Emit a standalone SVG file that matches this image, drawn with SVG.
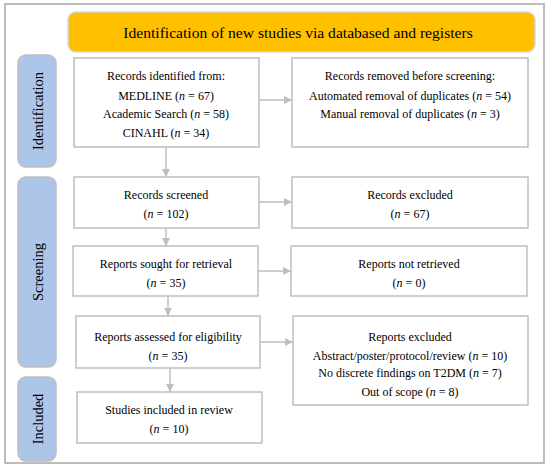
<svg xmlns="http://www.w3.org/2000/svg" width="550" height="474" viewBox="0 0 550 474">
<style>
.box{fill:#ffffff;stroke:#bfbfbf;stroke-width:1.5}
.side{fill:#adc5e8;stroke:#bfbfbf;stroke-width:1.5}
.t{font-family:"Liberation Serif","Times New Roman",serif;font-size:12px;fill:#000;text-anchor:middle}
.s{font-family:"Liberation Serif","Times New Roman",serif;font-size:14.5px;fill:#000;text-anchor:middle}
.h{font-family:"Liberation Serif","Times New Roman",serif;font-size:15.6px;fill:#000;text-anchor:middle}
.c{stroke:#bfbfbf;stroke-width:1.5;fill:none;marker-end:url(#ah)}
</style>
<defs>
<marker id="ah" viewBox="0 0 10 10" refX="10" refY="5" markerWidth="8" markerHeight="8" markerUnits="userSpaceOnUse" orient="auto">
<path d="M0,0 L10,5 L0,10 z" fill="#bfbfbf"/>
</marker>
</defs>
<rect x="0" y="0" width="550" height="474" fill="#ffffff"/>
<rect x="5" y="4" width="539" height="459" fill="#ffffff" stroke="#a6a6a6" stroke-width="1.5"/>
<g id="header">
<rect x="68" y="12" width="467" height="40" rx="8" fill="#ffc000" stroke="#d9d9d9" stroke-width="1.5"/>
<text class="h" x="298" y="38">Identification of new studies via databased and registers</text>
</g>
<g id="phase-identification">
<rect class="side" x="18" y="55" width="38" height="112" rx="8"/>
<text class="s" transform="translate(42.5,111) rotate(-90)">Identification</text>
</g>
<g id="phase-screening">
<rect class="side" x="18" y="177" width="38" height="190" rx="8"/>
<text class="s" transform="translate(42.5,272) rotate(-90)">Screening</text>
</g>
<g id="phase-included">
<rect class="side" x="18" y="377" width="38" height="84" rx="8"/>
<text class="s" transform="translate(42.5,419) rotate(-90)">Included</text>
</g>
<g id="connectors">
<line class="c" x1="259" y1="100" x2="292" y2="100"/>
<line class="c" x1="166" y1="147" x2="166" y2="177"/>
<line class="c" x1="259" y1="202" x2="292" y2="202"/>
<line class="c" x1="166" y1="228" x2="166" y2="246"/>
<line class="c" x1="258" y1="271" x2="291" y2="271"/>
<line class="c" x1="168" y1="296" x2="168" y2="316"/>
<line class="c" x1="260" y1="342" x2="293" y2="342"/>
<line class="c" x1="170" y1="368" x2="170" y2="392"/>
</g>
<g id="records-identified">
<rect class="box" x="74" y="58" width="185" height="89"/>
<text class="t" x="166" y="80">Records identified from:</text>
<text class="t" x="166" y="100">MEDLINE (<tspan font-style="italic">n</tspan> = 67)</text>
<text class="t" x="166" y="118">Academic Search (<tspan font-style="italic">n</tspan> = 58)</text>
<text class="t" x="166" y="137">CINAHL (<tspan font-style="italic">n</tspan> = 34)</text>
</g>
<g id="records-removed">
<rect class="box" x="292" y="58" width="236" height="89"/>
<text class="t" x="410" y="80">Records removed before screening:</text>
<text class="t" x="410" y="100">Automated removal of duplicates (<tspan font-style="italic">n</tspan> = 54)</text>
<text class="t" x="410" y="118">Manual removal of duplicates (<tspan font-style="italic">n</tspan> = 3)</text>
</g>
<g id="records-screened">
<rect class="box" x="74" y="177" width="185" height="51"/>
<text class="t" x="166" y="199">Records screened</text>
<text class="t" x="166" y="218">(<tspan font-style="italic">n</tspan> = 102)</text>
</g>
<g id="records-excluded">
<rect class="box" x="292" y="177" width="236" height="51"/>
<text class="t" x="410" y="199">Records excluded</text>
<text class="t" x="410" y="218">(<tspan font-style="italic">n</tspan> = 67)</text>
</g>
<g id="reports-sought">
<rect class="box" x="73" y="246" width="185" height="50"/>
<text class="t" x="166" y="268">Reports sought for retrieval</text>
<text class="t" x="166" y="287">(<tspan font-style="italic">n</tspan> = 35)</text>
</g>
<g id="reports-not-retrieved">
<rect class="box" x="291" y="246" width="236" height="50"/>
<text class="t" x="409" y="268">Reports not retrieved</text>
<text class="t" x="409" y="287">(<tspan font-style="italic">n</tspan> = 0)</text>
</g>
<g id="reports-assessed">
<rect class="box" x="76" y="316" width="184" height="52"/>
<text class="t" x="168" y="341">Reports assessed for eligibility</text>
<text class="t" x="168" y="360">(<tspan font-style="italic">n</tspan> = 35)</text>
</g>
<g id="reports-excluded">
<rect class="box" x="293" y="316" width="235" height="89"/>
<text class="t" x="410" y="341">Reports excluded</text>
<text class="t" x="410" y="360">Abstract/poster/protocol/review (<tspan font-style="italic">n</tspan> = 10)</text>
<text class="t" x="410" y="377">No discrete findings on T2DM (<tspan font-style="italic">n</tspan> = 7)</text>
<text class="t" x="410" y="396">Out of scope (<tspan font-style="italic">n</tspan> = 8)</text>
</g>
<g id="studies-included">
<rect class="box" x="77" y="392" width="185" height="51"/>
<text class="t" x="169" y="414">Studies included in review</text>
<text class="t" x="169" y="433">(<tspan font-style="italic">n</tspan> = 10)</text>
</g>
</svg>
